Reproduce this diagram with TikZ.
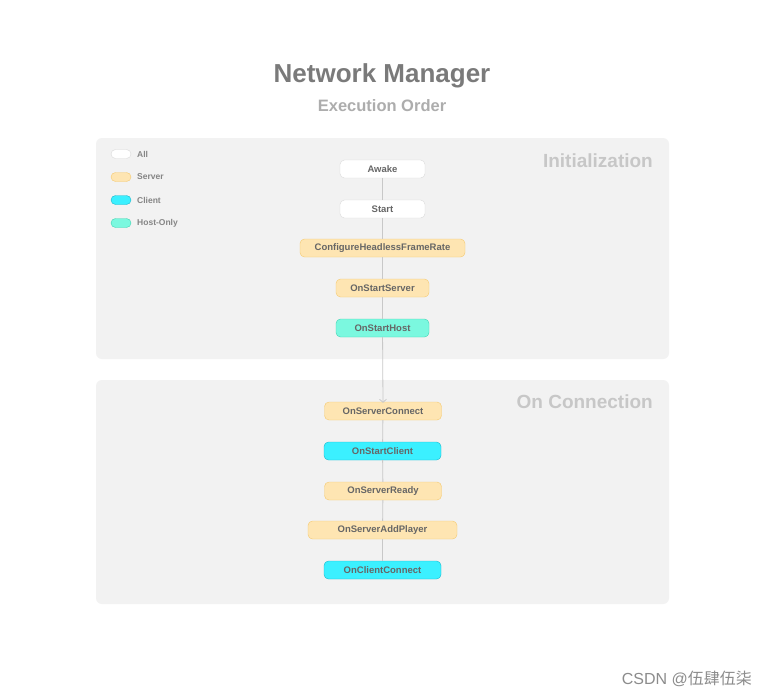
\documentclass[tikz,border=0pt]{standalone}
\usepackage{fontspec}
\setmainfont{Liberation Sans}
\newfontfamily\cjkfont{Noto Sans CJK SC}
\usepackage{xcolor}
\usetikzlibrary{positioning,arrows.meta}
\definecolor{panelgray}{HTML}{F2F2F2}
\definecolor{textgray}{HTML}{666666}
\definecolor{linegray}{HTML}{C8C8C8}
\definecolor{servfill}{HTML}{FEE5B2}
\definecolor{servdraw}{HTML}{F5C96E}
\definecolor{clientfill}{HTML}{3BF0FF}
\definecolor{clientdraw}{HTML}{18B8CC}
\definecolor{hostfill}{HTML}{7BF8DF}
\definecolor{hostdraw}{HTML}{3FD3B2}

\begin{document}
\begin{tikzpicture}[x=1pt,y=-1pt,
panel/.style={fill=panelgray, rounded corners=6pt},
stepnode/.style={rectangle, rounded corners=4.5pt, minimum height=18pt, inner sep=0pt, font=\fontsize{9.5}{10}\selectfont\bfseries, text=textgray},
allnode/.style={stepnode, fill=white, draw=black!15},
servnode/.style={stepnode, fill=servfill, draw=servdraw},
clientnode/.style={stepnode, fill=clientfill, draw=clientdraw},
hostnode/.style={stepnode, fill=hostfill, draw=hostdraw},
keynode/.style={rectangle, rounded corners=4.5pt, minimum width=20pt, minimum height=9pt, inner sep=0pt},
keytext/.style={anchor=west, inner sep=0pt, font=\fontsize{8.5}{9}\selectfont\bfseries, text=black!48},
paneltitle/.style={anchor=east, inner sep=0pt, font=\fontsize{19}{20}\selectfont\bfseries, text=black!22},
link/.style={draw=linegray, line width=0.8pt},
]
\useasboundingbox[fill=white] (0,0) rectangle (768,697);

%Panels
\fill[panel] (96,138) rectangle (669,359);
\fill[panel] (96,380) rectangle (669,604);

%Titles
\node[font=\fontsize{26}{28}\selectfont\bfseries, text=black!52] (Title) at (382,76) {Network Manager};
\node[font=\fontsize{16.5}{17}\selectfont\bfseries, text=black!32] (Subtitle) at (382,106) {Execution Order};
\node[paneltitle] (Init) at (653,161) {Initialization};
\node[paneltitle] (Conn) at (653,402) {On Connection};

%Legend
\node[keynode, fill=white, draw=black!15] (KeyAll) at (121,154) {};
\node[keynode, fill=servfill, draw=servdraw] (KeyServer) at (121,177) {};
\node[keynode, fill=clientfill, draw=clientdraw] (KeyClient) at (121,200) {};
\node[keynode, fill=hostfill, draw=hostdraw] (KeyHost) at (121,223) {};
\node[keytext] (KeyAllText) at (137,154) {All};
\node[keytext] (KeyServerText) at (137,177) {Server};
\node[keytext] (KeyClientText) at (137,200) {Client};
\node[keytext] (KeyHostText) at (137,223) {Host-Only};

%Nodes
\node[allnode, minimum width=85pt] (Awake) at (382.5,169) {Awake};
\node[allnode, minimum width=85pt] (Start) at (382.5,209) {Start};
\node[servnode, minimum width=165pt] (Configure) at (382.5,248) {ConfigureHeadlessFrameRate};
\node[servnode, minimum width=93pt] (StartServer) at (382.5,288) {OnStartServer};
\node[hostnode, minimum width=93pt] (StartHost) at (382.5,328) {OnStartHost};
\node[servnode, minimum width=117pt] (ServerConnect) at (383,411) {OnServerConnect};
\node[clientnode, minimum width=117pt] (StartClient) at (382.5,451) {OnStartClient};
\node[servnode, minimum width=117pt] (ServerReady) at (383,491) {OnServerReady};
\node[servnode, minimum width=149pt] (AddPlayer) at (382.5,530) {OnServerAddPlayer};
\node[clientnode, minimum width=117pt] (ClientConnect) at (382.5,570) {OnClientConnect};

%Lines
\draw[link] (Awake) -- (Start);
\draw[link] (Start) -- (Configure);
\draw[link] (Configure) -- (StartServer);
\draw[link] (StartServer) -- (StartHost);
\draw[link, -{Straight Barb[length=3pt, width=7pt]}] (StartHost) -- ([yshift=-1pt]ServerConnect.north);
\draw[link] (ServerConnect) -- (StartClient);
\draw[link] (StartClient) -- (ServerReady);
\draw[link] (ServerReady) -- (AddPlayer);
\draw[link] (AddPlayer) -- (ClientConnect);

%Watermark
\node[anchor=east, inner sep=0pt, font=\fontsize{16}{17}\selectfont, text=black!45] (Mark) at (752,679) {CSDN @{\cjkfont 伍肆伍柒}};
\end{tikzpicture}
\end{document}
